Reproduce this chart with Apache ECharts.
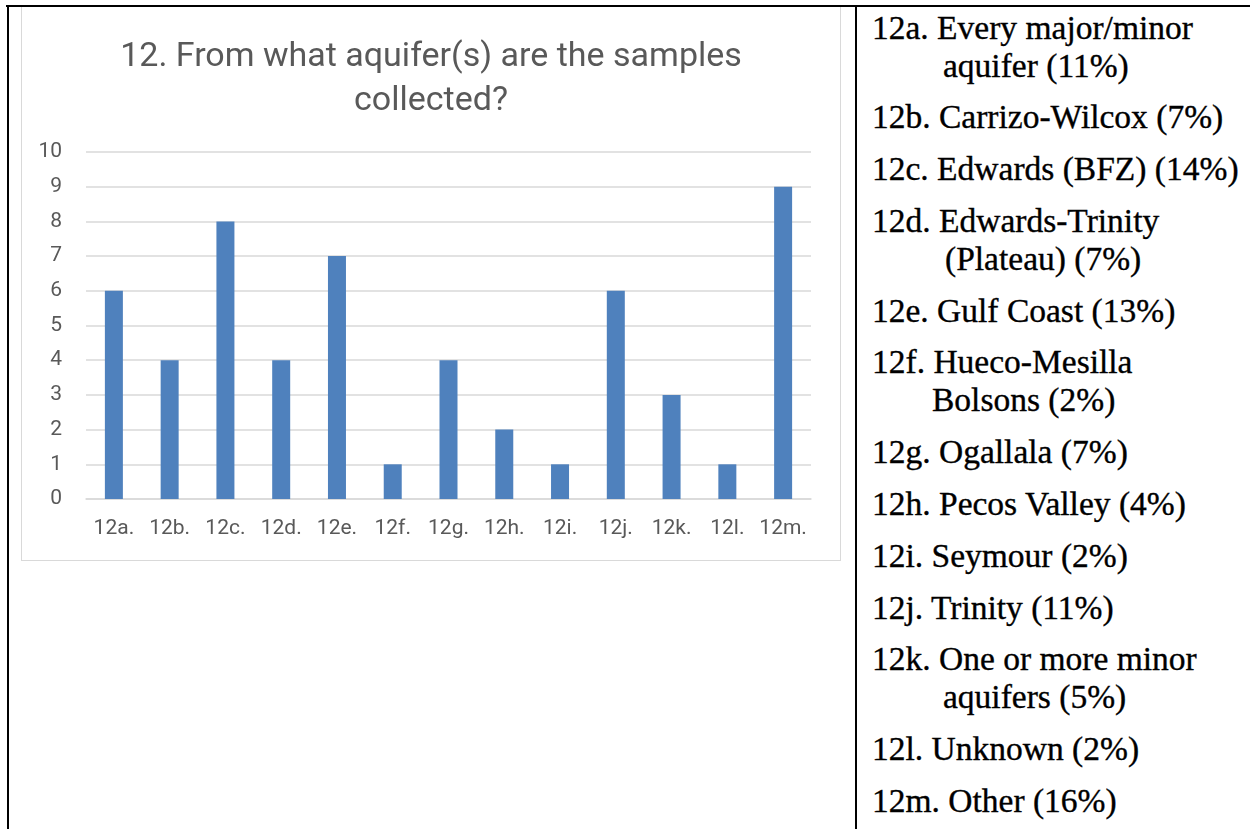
<!DOCTYPE html>
<html>
<head>
<meta charset="utf-8">
<script src="https://cdn.jsdelivr.net/npm/echarts@6/dist/echarts.min.js"></script>
<style>
  html, body { margin: 0; padding: 0; background: #fff; }
  body { width: 1250px; height: 829px; position: relative; overflow: hidden; }
  .rule-top { position: absolute; left: 6px; top: 5px; width: 1244px; height: 2px; background: #000; }
  .rule-left { position: absolute; left: 7px; top: 5px; width: 2px; height: 824px; background: #000; }
  .rule-mid { position: absolute; left: 855px; top: 5px; width: 2px; height: 824px; background: #000; }
  #chart { position: absolute; left: 21px; top: 7px; width: 818px; height: 553px; border: 1px solid #d9d9d9; border-top: none; }
  #legend { position: absolute; left: 872px; top: 9px; width: 378px; margin: 0; padding: 0; list-style: none;
    font-family: 'Liberation Serif', serif; font-size: 33.5px; line-height: 37.5px; color: #000;
    -webkit-text-stroke: 0.35px #000; }
  #legend li { margin-bottom: 14.4px; white-space: nowrap; }
  #legend li span { display: block; }
</style>
</head>
<body>
<div class="rule-top"></div>
<div class="rule-left"></div>
<div class="rule-mid"></div>
<div id="chart"></div>
<ul id="legend"></ul>
<script>
const categories = ['12a.', '12b.', '12c.', '12d.', '12e.', '12f.', '12g.', '12h.', '12i.', '12j.', '12k.', '12l.', '12m.']
const counts = [6, 4, 8, 4, 7, 1, 4, 2, 1, 6, 3, 1, 9]

// right-hand key: first line, wrapped line, indent of wrapped line
const keyLines = [
  ['12a. Every major/minor', 'aquifer (11%)', 71],
  ['12b. Carrizo-Wilcox (7%)'],
  ['12c. Edwards (BFZ) (14%)'],
  ['12d. Edwards-Trinity', '(Plateau) (7%)', 73],
  ['12e. Gulf Coast (13%)'],
  ['12f. Hueco-Mesilla', 'Bolsons (2%)', 60],
  ['12g. Ogallala (7%)'],
  ['12h. Pecos Valley (4%)'],
  ['12i. Seymour (2%)'],
  ['12j. Trinity (11%)'],
  ['12k. One or more minor', 'aquifers (5%)', 71],
  ['12l. Unknown (2%)'],
  ['12m. Other (16%)'],
]

const legendEl = document.getElementById('legend')
keyLines.forEach(([first, second, indent]) => {
  const li = document.createElement('li')
  const a = document.createElement('span')
  a.textContent = first
  li.appendChild(a)
  if (second) {
    const b = document.createElement('span')
    b.textContent = second
    b.style.paddingLeft = indent + 'px'
    li.appendChild(b)
  }
  legendEl.appendChild(li)
})

const chart = echarts.init(document.getElementById('chart'))
const font = 'Roboto, sans-serif'

chart.setOption({
  backgroundColor: '#fff',
  animation: false,
  title: {
    text: '12. From what aquifer(s) are the samples\ncollected?',
    left: 'center',
    top: 23,
    textStyle: {
      color: '#595959',
      fontSize: 34,
      fontWeight: 'normal',
      fontFamily: font,
      lineHeight: 44,
      align: 'center',
    },
  },
  grid: {
    left: 64,
    right: 29,
    top: 145,
    height: 347,
    containLabel: false,
  },
  xAxis: {
    type: 'category',
    data: categories,
    axisLine: { lineStyle: { color: '#d9d9d9', width: 1.5 } },
    axisTick: { show: false },
    axisLabel: { color: '#595959', fontSize: 21, fontFamily: font, margin: 19, interval: 0 },
  },
  yAxis: {
    type: 'value',
    min: 0,
    max: 10,
    interval: 1,
    axisLine: { show: false },
    axisTick: { show: false },
    axisLabel: { color: '#595959', fontSize: 21, fontFamily: font, margin: 24 },
    splitLine: { lineStyle: { color: '#d9d9d9', width: 1.5 } },
  },
  series: [{
    type: 'bar',
    data: counts,
    barWidth: 18,
    itemStyle: { color: '#4f81bd' },
  }],
})
</script>
</body>
</html>
